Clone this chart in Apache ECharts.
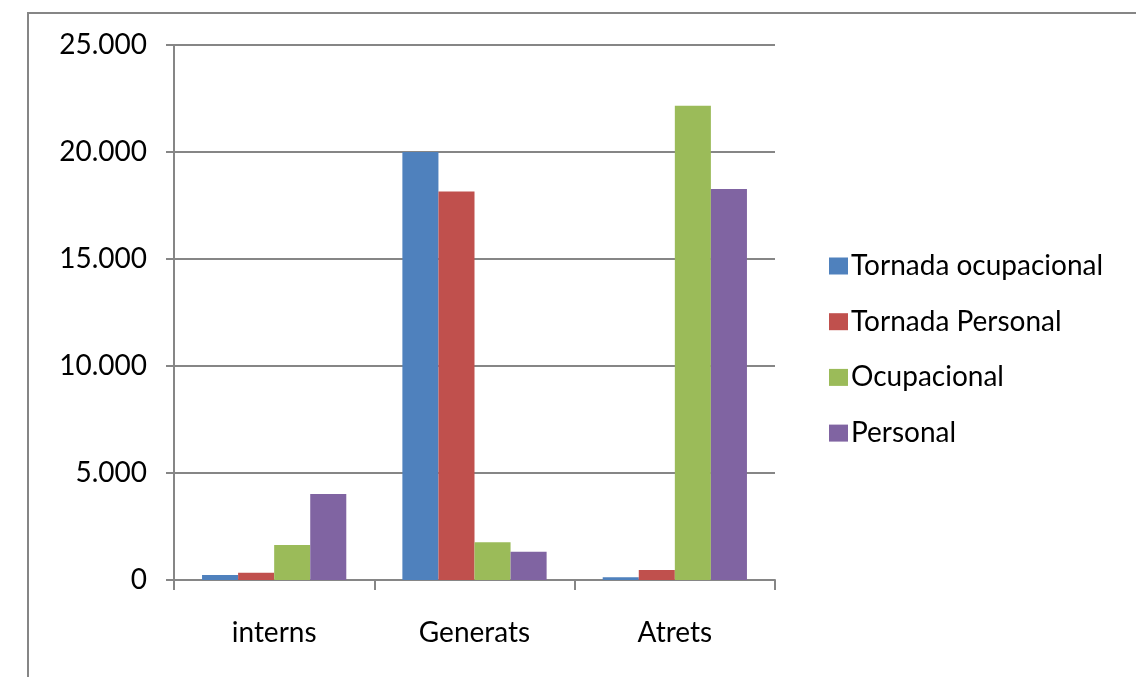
<!DOCTYPE html>
<html>
<head>
<meta charset="utf-8">
<script src="https://cdn.jsdelivr.net/npm/echarts@6/dist/echarts.min.js"></script>
<style>
  html, body { margin: 0; padding: 0; background: #fff; }
  #chart { width: 1136px; height: 677px; }
</style>
</head>
<body>
<div id="chart"></div>
<script>
// Categories and series values
const categories = ['interns', 'Generats', 'Atrets'];
const tornadaOcupacional = [230, 20000, 125];
const tornadaPersonal = [340, 18150, 470];
const ocupacional = [1640, 1760, 22160];
const personal = [4020, 1320, 18270];

const seriesNames = ['Tornada ocupacional', 'Tornada Personal', 'Ocupacional', 'Personal'];
const seriesColors = ['#4F81BD', '#C0504D', '#9BBB59', '#8064A2'];
const seriesData = [tornadaOcupacional, tornadaPersonal, ocupacional, personal];

const FONT = 'Lato';
const FONT_SIZE = 28;
const GRAY = '#868686';

const chart = echarts.init(document.getElementById('chart'), null, { renderer: 'canvas' });

// 25000 -> "25.000"
const formatThousands = v => {
  if (v === 0) return '0';
  const s = String(Math.round(v));
  return s.replace(/\B(?=(\d{3})+(?!\d))/g, '.');
};

chart.setOption({
  animation: false,
  backgroundColor: '#fff',
  graphic: [{
    type: 'rect',
    shape: { x: 28, y: 13, width: 1300, height: 900 },
    style: { fill: 'none', stroke: GRAY, lineWidth: 2 },
    silent: true
  }],
  grid: { left: 174, top: 45, right: 361, bottom: 97, containLabel: false },
  legend: {
    orient: 'vertical',
    left: 824,
    top: 247,
    itemWidth: 19,
    itemHeight: 17,
    itemGap: 27.7,
    icon: 'rect',
    textStyle: { fontFamily: FONT, fontSize: FONT_SIZE, color: '#000', padding: [0, 0, 0, -2] },
    data: seriesNames
  },
  xAxis: {
    type: 'category',
    data: categories,
    axisLine: { lineStyle: { color: GRAY, width: 2 } },
    axisTick: { show: true, length: 10, lineStyle: { color: GRAY, width: 2 } },
    axisLabel: { fontFamily: FONT, fontSize: FONT_SIZE, color: '#000', margin: 39 },
    splitLine: { show: false }
  },
  yAxis: {
    type: 'value',
    min: 0,
    max: 25000,
    interval: 5000,
    axisLine: { show: true, lineStyle: { color: GRAY, width: 2 } },
    axisTick: { show: true, length: 8, lineStyle: { color: GRAY, width: 2 } },
    axisLabel: { fontFamily: FONT, fontSize: FONT_SIZE, color: '#000', margin: 27, formatter: formatThousands },
    splitLine: { lineStyle: { color: GRAY, width: 2 } }
  },
  series: seriesNames.map((name, i) => ({
    name,
    type: 'bar',
    data: seriesData[i],
    itemStyle: { color: seriesColors[i] },
    barGap: '0%',
    barCategoryGap: '28%'
  }))
});
</script>
</body>
</html>
